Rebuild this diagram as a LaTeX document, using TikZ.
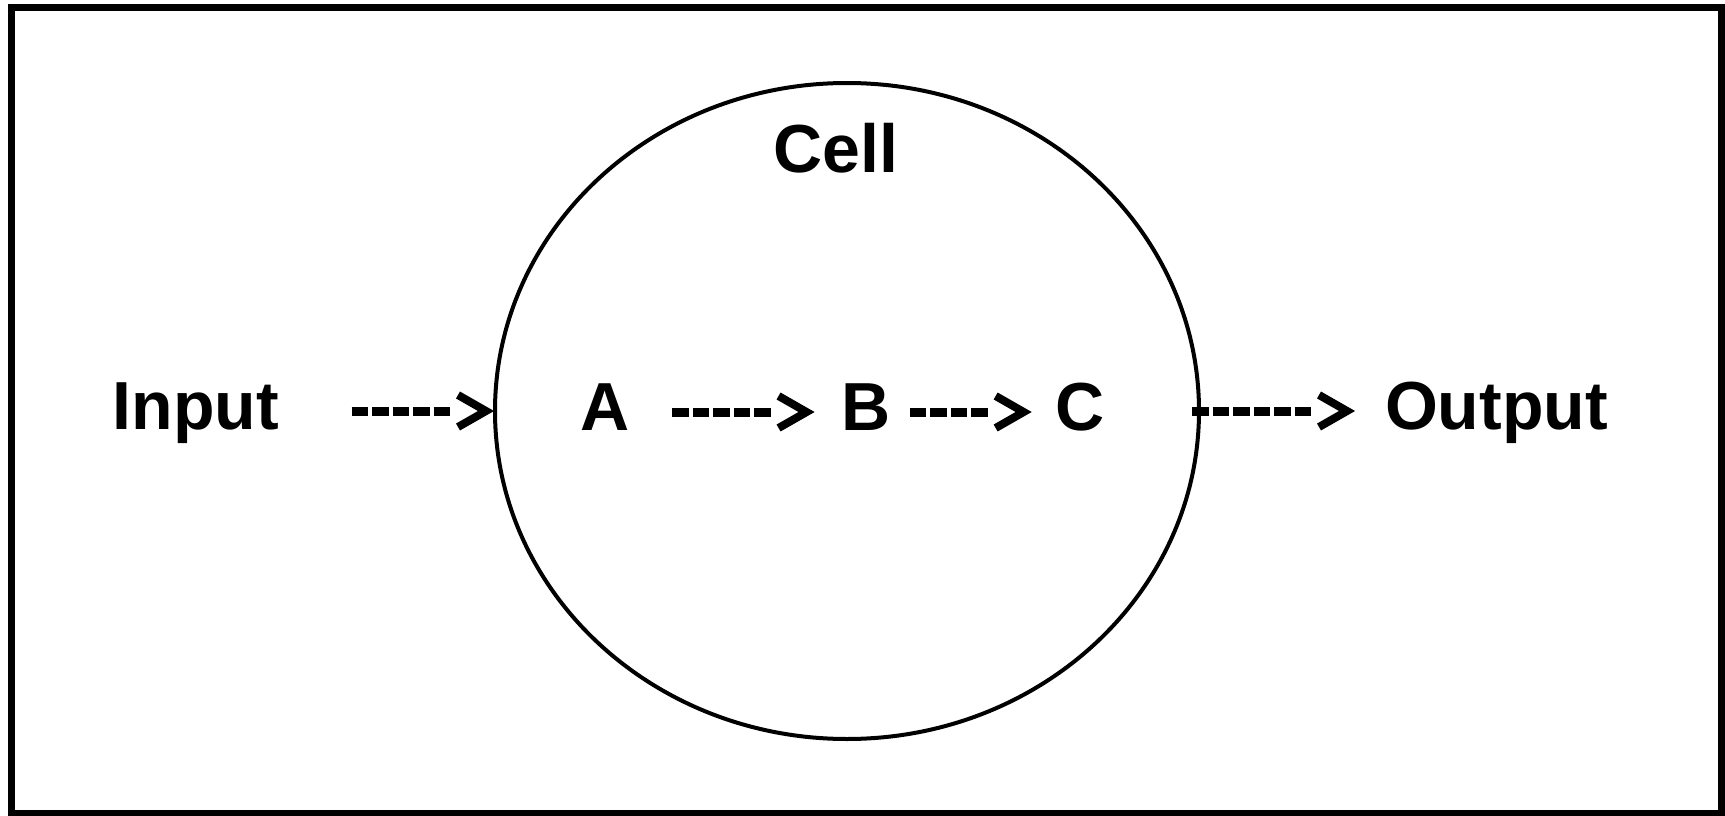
\documentclass[tikz,border=0pt]{standalone}
\usepackage{fontspec}
\setmainfont{Liberation Sans}
\usetikzlibrary{shapes.geometric, positioning, decorations.markings}

\begin{document}
\begin{tikzpicture}[
    x=1pt, y=-1pt,
    lbl/.style={inner sep=0pt, outer sep=0pt, text height=36pt, text depth=0pt, font=\fontsize{68}{80}\selectfont\bfseries},
    cellshape/.style={ellipse, draw, line width=4pt, minimum width=704pt, minimum height=656pt, inner sep=0pt, outer sep=0pt},
    chevron/.style={solid, line width=8pt, line join=miter, line cap=butt, shorten >=0pt, shorten <=0pt},
    dasharrow/.style={line width=9pt, dash pattern=on 16.5pt off 4pt, shorten >=#1+44pt,
        postaction={decorate, decoration={markings, mark=at position -#1 with
            {\draw[chevron] (-36pt,-16pt) -- (-8pt,0pt) -- (-36pt,16pt);}}}},
]
    \useasboundingbox (0,0) rectangle (1725,816);
    \draw[line width=7pt] (11,7.5) rectangle (1721,813);

    \node[cellshape] (cell) at (847,411) {};
    \node[lbl] (title) at (836,154) {Cell};

    \node[lbl, left=216pt of cell] (in) {Input};
    \node[lbl] (a) at (605,412) {A};
    \node[lbl, right=212pt of a] (b) {B};
    \node[lbl, right=165pt of b] (c) {C};
    \node[lbl, right=186pt of cell] (out) {Output};

    \draw[dasharrow=1pt, shorten <=72.5pt] (in) -- (cell.west);
    \draw[dasharrow=27pt, shorten <=42.5pt] (a) -- (b);
    \draw[dasharrow=24pt, shorten <=19pt] (b) -- (c);
    \draw[dasharrow=30pt, shorten <=-7pt] (cell.east) -- (out);
\end{tikzpicture}
\end{document}
